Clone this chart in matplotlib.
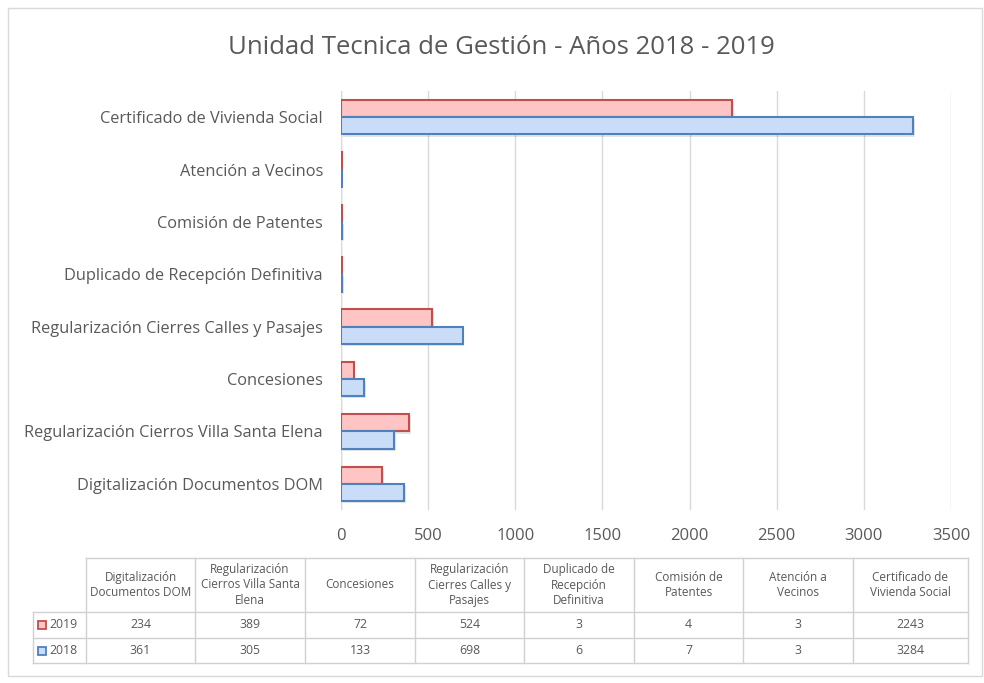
import matplotlib
matplotlib.use("Agg")
import matplotlib.pyplot as plt
from matplotlib.patches import Rectangle
import numpy as np

categories = ["Digitalización Documentos DOM",
              "Regularización Cierros Villa Santa Elena",
              "Concesiones",
              "Regularización Cierres Calles y Pasajes",
              "Duplicado de Recepción Definitiva",
              "Comisión de Patentes",
              "Atención a Vecinos",
              "Certificado de Vivienda Social"]
table_headers = ["Digitalización\nDocumentos DOM",
                 "Regularización\nCierros Villa Santa\nElena",
                 "Concesiones",
                 "Regularización\nCierres Calles y\nPasajes",
                 "Duplicado de\nRecepción\nDefinitiva",
                 "Comisión de\nPatentes",
                 "Atención a\nVecinos",
                 "Certificado de\nVivienda Social"]
values_2019 = [234, 389, 72, 524, 3, 4, 3, 2243]
values_2018 = [361, 305, 133, 698, 6, 7, 3, 3284]
series_labels = ["2019", "2018"]
xticks = [0, 500, 1000, 1500, 2000, 2500, 3000, 3500]
title = "Unidad Tecnica de Gestión - Años 2018 - 2019"

FONT = ["Open Sans", "DejaVu Sans"]
plt.rcParams["font.family"] = FONT
TXT = "#595959"
RED_FILL, RED_EDGE = "#FFC4C4", "#C0504D"
BLUE_FILL, BLUE_EDGE = "#C9DDF8", "#4F81BD"

W, H = 984, 683
fig = plt.figure(figsize=(W / 100, H / 100), dpi=100)
fig.patch.set_facecolor("white")

def fx(px): return px / W
def fy(py): return 1 - py / H

# outer border
fig.patches.append(Rectangle((fx(8), fy(676)), fx(974) - fx(0), fy(8) - fy(676),
                             transform=fig.transFigure, fill=False,
                             edgecolor="#D9D9D9", lw=1))

ax = fig.add_axes([fx(341), fy(510), fx(951) - fx(341), fy(91) - fy(510)])
y = np.arange(len(categories))
bh = 0.33
# shadows
ax.barh(y + bh / 2 - 0.04, values_2019, height=bh, left=10, color="#000000", alpha=0.10, lw=0, zorder=2)
ax.barh(y - bh / 2 - 0.04, values_2018, height=bh, left=10, color="#000000", alpha=0.10, lw=0, zorder=2)
ax.barh(y + bh / 2, values_2019, height=bh, color=RED_FILL, edgecolor=RED_EDGE, lw=1.5, zorder=3)
ax.barh(y - bh / 2, values_2018, height=bh, color=BLUE_FILL, edgecolor=BLUE_EDGE, lw=1.5, zorder=3)
ax.set_xlim(0, 3500)
ax.set_ylim(-0.5, len(categories) - 0.5)
ax.set_xticks(xticks)
ax.set_xticklabels([str(t) for t in xticks], fontsize=12, color=TXT)
ax.set_yticks(y)
ax.set_yticklabels(categories, fontsize=11.8, color=TXT)
ax.tick_params(length=0, pad=13, axis="x")
ax.tick_params(length=0, pad=13, axis="y")
ax.grid(axis="x", color="#D9D9D9", lw=1, zorder=0)
ax.set_axisbelow(True)
for s in ax.spines.values():
    s.set_visible(False)
ax.axvline(0, color="#D9D9D9", lw=1, zorder=1)

fig.text(fx(501), fy(47), title, ha="center", va="center", fontsize=18.5, color=TXT)

# data table
col_x = [86, 195, 305, 415, 524, 634, 743, 853, 968]
row_y = [558, 612, 638, 663]
lab_x0 = 33
line_c = "#D0D0D0"
def hline(x0, x1, yy):
    fig.add_artist(plt.Line2D([fx(x0), fx(x1)], [fy(yy), fy(yy)], transform=fig.transFigure, color=line_c, lw=1))
def vline(xx, y0, y1):
    fig.add_artist(plt.Line2D([fx(xx), fx(xx)], [fy(y0), fy(y1)], transform=fig.transFigure, color=line_c, lw=1))

hline(col_x[0], col_x[-1], row_y[0])
for yy in row_y[1:]:
    hline(lab_x0, col_x[-1], yy)
for xx in col_x:
    vline(xx, row_y[0], row_y[-1])
vline(lab_x0, row_y[1], row_y[-1])

for i, hdr in enumerate(table_headers):
    cx = (col_x[i] + col_x[i + 1]) / 2
    fig.text(fx(cx), fy((row_y[0] + row_y[1]) / 2), hdr, ha="center", va="center",
             fontsize=8.5, color=TXT, linespacing=1.25)
rows = [values_2019, values_2018]
styles = [(RED_FILL, RED_EDGE), (BLUE_FILL, BLUE_EDGE)]
for r, vals in enumerate(rows):
    cy = (row_y[r + 1] + row_y[r + 2]) / 2
    for i, v in enumerate(vals):
        cx = (col_x[i] + col_x[i + 1]) / 2
        fig.text(fx(cx), fy(cy), str(v), ha="center", va="center", fontsize=8.8, color=TXT)
    fc, ec = styles[r]
    fig.patches.append(Rectangle((fx(38), fy(cy + 4)), fx(8), fy(0) - fy(8),
                                 transform=fig.transFigure, facecolor=fc, edgecolor=ec, lw=1.3))
    fig.text(fx(49), fy(cy), series_labels[r], ha="left", va="center", fontsize=8.8, color=TXT)

fig.savefig("out.png", dpi=100)
